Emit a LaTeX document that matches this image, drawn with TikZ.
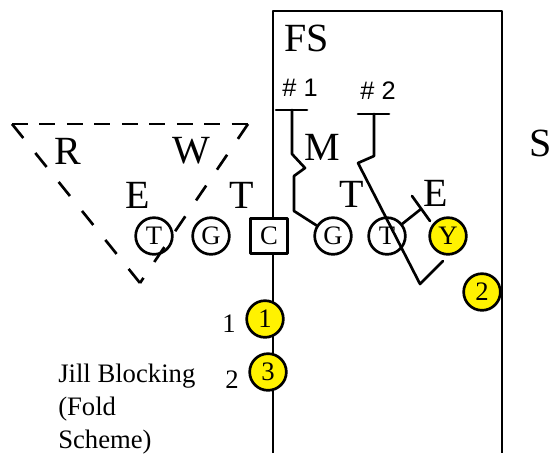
\documentclass[tikz,border=0pt]{standalone}
\usepackage{fontspec}
\setmainfont{Liberation Serif}
\newfontfamily\arialfont{Liberation Sans}
\begin{document}
\begin{tikzpicture}[x=0.75pt, y=-0.75pt, line cap=round, line join=round,
  player/.style={circle, draw, line width=2pt, fill=white, minimum size=27.5pt, inner sep=0pt, font=\fontsize{20}{20}\selectfont},
  ball/.style={player, fill=yellow},
  snapper/.style={player, rectangle, minimum width=28pt, minimum height=26.5pt},
  letter/.style={font=\fontsize{30}{30}\selectfont},
  gapnum/.style={font=\arialfont\fontsize{19}{19}\selectfont},
  block/.style={line width=2pt},
  zone/.style={line width=2pt, line cap=butt, dash pattern=on 12pt off 8.6pt},
  slope/.style={line width=2pt, line cap=butt, dash pattern=on 13.5pt off 14.4pt}]

  % Page window
  \useasboundingbox (0,0) rectangle (552,453);

  % Box, open at the bottom
  \draw[block, line cap=butt] (273,453) -- (273,11) -- (502,11) -- (502,453);

  % Line of scrimmage
  \foreach \name/\x/\lab in {tackleL/154/T, guardL/211/G, guardR/333/G, tackleR/387/T}
    \node[player] (\name) at (\x,236) {\lab};
  \node[snapper] (center) at (269,236) {C};
  \node[ball] (tightend) at (448,236) {Y};

  % Backs
  \node[ball] (back1) at (265,319) {1};
  \node[ball] (back3) at (268,372) {3};
  \node[ball] (back2) at (482,292) {2};
  \node[font=\fontsize{20}{20}\selectfont] (num1) at (229,324) {1};
  \node[font=\fontsize{20}{20}\selectfont] (num2) at (232,380) {2};

  % Defenders
  \node[letter] (fs) at (307,38) {FS};
  \node[letter, inner sep=0pt] (ss) at (541,143) {S};
  \node[letter] (rover) at (68,151) {R};
  \node[letter] (will) at (191,151) {W};
  \node[letter] (endL) at (138,195) {E};
  \node[letter] (tackleD) at (242,195) {T};
  \node[letter] (mike) at (322,147) {M};
  \node[letter] (tackleE) at (352,194) {T};
  \node[letter] (endR) at (436,193) {E};

  % Gap numbers
  \node[gapnum] (gap1) at (300,88) {\# 1};
  \node[gapnum] (gap2) at (378,91) {\# 2};

  % Guard folds up to the first gap
  \coordinate (bar1) at (292,110);
  \draw[block] (276,110) -- (307,110);
  \draw[block] (bar1) -- (292,154) -- (305,168) -- (294,176) -- (294,211) -- (guardR);

  % Second gap, crossing behind the tackle
  \coordinate (bar2) at (374,114);
  \coordinate (turn) at (443,261);
  \draw[block] (358,114) -- (389,114);
  \draw[block] (bar2) -- (374,156) -- (358,163) -- (420,284) -- (turn);

  % Tackle blocks the end
  \coordinate (hit) at (421,209);
  \draw[block] (tackleR) -- (hit);
  \draw[block] (412,196) -- (430,221);

  % Weak side zone
  \coordinate (zoneL) at (12,124);
  \coordinate (zoneR) at (248,124);
  \coordinate (zoneB) at (140,283);
  \draw[zone] (zoneL) -- (zoneR);
  \draw[slope] (zoneL) -- (zoneB);
  \draw[slope] (zoneR) -- (zoneB);

  % Caption
  \node[align=left, anchor=base west, inner sep=0pt, font=\fontsize{20}{24.75}\selectfont] (jill) at (58,448) {Jill Blocking\\(Fold\\Scheme)};

\end{tikzpicture}
\end{document}
